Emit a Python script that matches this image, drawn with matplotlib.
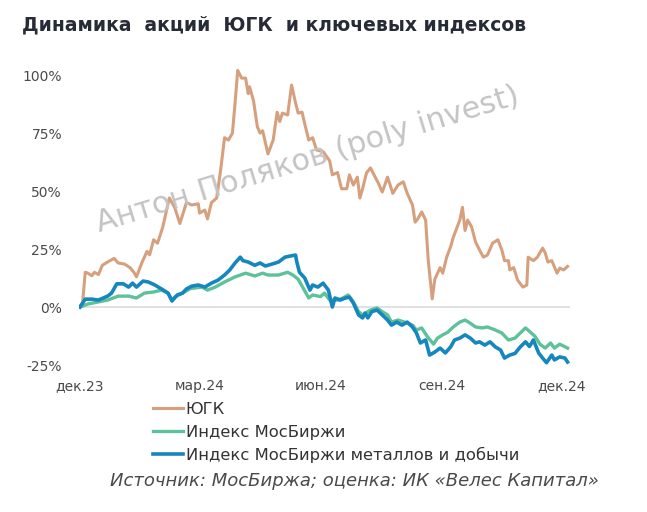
import pandas as pd
import matplotlib
matplotlib.use("Agg")
import matplotlib.pyplot as plt

plt.rcParams["font.family"] = ["DejaVu Sans"]

# ------------------------------------
# Data: day offset from 01.12.2023, change in %
# ------------------------------------
start = pd.Timestamp("2023-12-01")

ugc_days = [0, 2, 4, 6, 9, 11, 14, 17, 21, 26,
            29, 34, 38, 41, 43, 47, 51, 53, 56, 59,
            63, 68, 72, 76, 81, 85, 90, 91, 95, 97,
            100, 104, 107, 110, 113, 116, 118, 120, 123, 126,
            128, 129, 132, 135, 137, 139, 143, 147, 150, 152,
            154, 158, 161, 164, 166, 169, 171, 174, 177, 180,
            185, 190, 192, 196, 199, 203, 205, 208, 211, 213,
            215, 218, 221, 223, 227, 230, 234, 236, 238, 242,
            246, 249, 253, 255, 257, 260, 263, 265, 268, 270,
            274, 276, 279, 282, 284, 287, 289, 291, 293, 295,
            298, 301, 304, 307, 310, 314, 318, 321, 323, 326,
            327, 330, 333, 337, 340, 341, 345, 348, 352, 354,
            356, 359, 363, 365, 368, 371]
ugc = [0, 2, 15, 14.6, 13.5, 15, 14, 18, 19.4, 21,
       19, 18.5, 17, 15, 13, 19, 24, 22.5, 29, 27.5,
       34.5, 47, 43, 36, 45, 44, 44.5, 40.5, 41.8, 38,
       45, 47, 59, 73, 72, 75, 88, 102, 98.7, 98.7,
       92, 95, 89, 77.6, 75, 76, 66, 72, 84, 80,
       83.6, 82.8, 95.7, 88, 83.6, 84, 79, 72, 73, 67.7,
       67, 63, 57, 58, 51, 51, 57, 52.6, 56, 47,
       51, 57.8, 60, 57.8, 53.4, 49.6, 56, 52.6, 49, 52.6,
       54, 49, 44, 36.6, 38, 41, 37.5, 20, 3.5, 12,
       17, 14.6, 21.5, 26, 30, 34.5, 37.5, 43, 33, 37.5,
       34.5, 28, 24.6, 21.5, 22.4, 27.6, 29, 24.6, 20, 20,
       16, 17, 11.6, 8.6, 9.5, 21.5, 20, 21.5, 25.4, 23.3,
       19.4, 20, 14.6, 16.8, 16, 17.5]

moex_days = [0, 6, 14, 21, 29, 37, 43, 49, 56, 62,
             67, 70, 72, 78, 84, 93, 97, 103, 110, 118,
             126, 133, 139, 143, 151, 158, 162, 166, 170, 174,
             177, 183, 186, 190, 196, 200, 204, 208, 212, 215,
             221, 226, 230, 234, 237, 242, 247, 253, 256, 260,
             264, 269, 272, 276, 280, 284, 289, 293, 297, 301,
             306, 310, 316, 321, 326, 331, 335, 339, 342, 346,
             350, 354, 358, 361, 365, 371]
moex = [0, 1.3, 2.2, 3, 4.7, 4.7, 3.9, 6, 6.5, 7.3,
        6, 3, 4.3, 6, 8, 8.6, 7.3, 8.6, 10.8, 13,
        14.6, 13.4, 14.6, 13.8, 13.8, 15, 13.8, 12, 8, 3.9,
        5.2, 4.5, 6, 3, 3, 3.9, 5.2, 2.2, -2, -3.4,
        -1.3, -0.4, -2, -3.4, -6.5, -5.6, -6.5, -7.8, -9.9, -9,
        -12.5, -16, -13.4, -12, -10.8, -8.6, -6.5, -5.6, -7, -8.6,
        -9, -8.6, -9.9, -11.2, -14.2, -13.4, -11.2, -9, -10.5, -12.5,
        -16, -17.7, -15.5, -17.7, -16, -17.7]

metals_days = [0, 4, 9, 14, 21, 24, 28, 33, 37, 40,
               43, 48, 52, 57, 62, 67, 70, 74, 78, 81,
               85, 90, 95, 100, 105, 110, 114, 118, 122, 124,
               128, 133, 137, 141, 146, 151, 156, 160, 164, 165,
               167, 171, 175, 177, 181, 185, 189, 192, 194, 198,
               202, 205, 208, 212, 215, 217, 219, 222, 226, 230,
               234, 237, 241, 245, 249, 253, 256, 259, 263, 266,
               270, 274, 278, 282, 285, 289, 293, 297, 301, 304,
               308, 312, 316, 320, 323, 327, 331, 335, 339, 342,
               345, 349, 352, 355, 359, 361, 365, 369, 371]
metals = [0, 3.4, 3.4, 3, 4.7, 6, 10, 10, 8.6, 10.3,
          8.6, 11.2, 10.8, 9.5, 7.8, 6, 2.6, 5.2, 6, 7.8,
          9, 9.5, 8.6, 10.3, 11.6, 13.8, 16, 19, 21.5, 20,
          19.4, 18, 19, 17.7, 18.5, 19.4, 21.5, 22, 22.4, 19.4,
          15, 12.5, 7.3, 9.5, 8.6, 10.3, 7.3, 0, 3.9, 3,
          3.9, 4.3, 1.7, -3.4, -4.7, -2.6, -4.7, -2, -1.3, -3.4,
          -5.6, -7.8, -6.5, -7.8, -6.5, -8.6, -11.2, -15.5, -14.2, -20.7,
          -19.4, -17.7, -19.8, -17.2, -14.2, -13.4, -12, -13.4, -15.5, -15,
          -16.4, -15, -17.2, -18.5, -22, -20.7, -20, -17.2, -15, -17,
          -14.2, -19.8, -22, -24, -20.7, -22.8, -21.5, -22, -23.7]

x_ticks = ["2023-12-01", "2024-03-01", "2024-06-01", "2024-09-01", "2024-12-01"]
x_labels = ["дек.23", "мар.24", "июн.24", "сен.24", "дек.24"]
y_ticks = [-25, 0, 25, 50, 75, 100]
y_labels = ["-25%", "0%", "25%", "50%", "75%", "100%"]


def to_dates(days):
    return start + pd.to_timedelta(days, unit="D")


# ------------------------------------
# Plot
# ------------------------------------
fig = plt.figure(figsize=(6.47, 5.12), dpi=100)
ax = fig.add_axes([0.1216, 0.278, 0.7597, 0.598])

ax.axhline(0, color="#dcdcdc", lw=1.2, zorder=1)
ax.plot(to_dates(ugc_days), ugc, color="#D6A07E", lw=2.2, label="ЮГК", zorder=2)
ax.plot(to_dates(moex_days), moex, color="#5DC199", lw=2.4, label="Индекс МосБиржи", zorder=3)
ax.plot(to_dates(metals_days), metals, color="#1687BE", lw=2.6,
        label="Индекс МосБиржи металлов и добычи", zorder=4)

ax.set_xlim(start - pd.Timedelta(days=1), start + pd.Timedelta(days=373))
ax.set_ylim(-27, 105)
ax.set_xticks(pd.to_datetime(x_ticks))
ax.set_xticklabels(x_labels)
ax.set_yticks(y_ticks)
ax.set_yticklabels(y_labels)
ax.tick_params(axis="both", length=0, labelsize=10, colors="#4a4a4a")
ax.tick_params(axis="y", pad=12)
ax.tick_params(axis="x", pad=7)
for s in ax.spines.values():
    s.set_visible(False)

fig.text(22 / 647, 1 - 25 / 512, "Динамика  акций  ЮГК  и ключевых индексов",
         fontsize=13.5, fontweight="bold", color="#262b36", va="center", ha="left")

fig.text(0.476, 0.6875, "Антон Поляков (poly invest)", fontsize=22, color="#c4c4c4",
         rotation=17, ha="center", va="center", rotation_mode="anchor", zorder=10)

fig.legend(loc="upper left", bbox_to_anchor=(153 / 647, 1 - 402 / 512), frameon=False,
           fontsize=11.8, handlelength=1.8, handletextpad=0.2, labelspacing=0.46,
           borderpad=0, borderaxespad=0, labelcolor="#333333")

fig.text(110 / 647, 1 - 481 / 512, "Источник: МосБиржа; оценка: ИК «Велес Капитал»",
         fontsize=13, style="italic", color="#4a4a4a", va="center", ha="left")

plt.savefig("out.png", dpi=100)
